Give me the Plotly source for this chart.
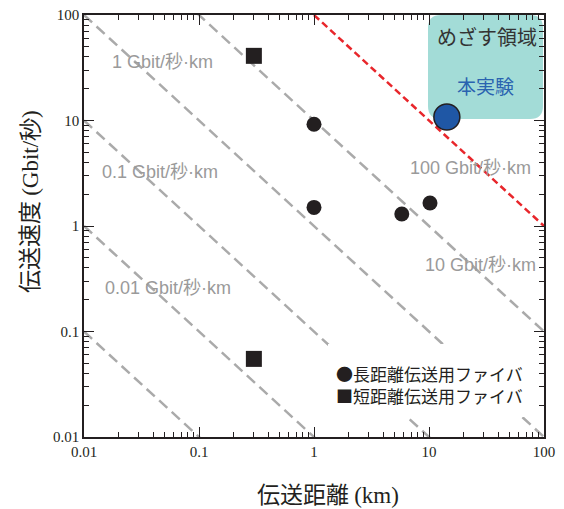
import plotly.graph_objects as go

# ---- data ----
tick_vals = [0.01, 0.1, 1, 10, 100]
tick_text = ["0.01", "0.1", "1", "10", "100"]

long_dist_x = [1.0, 1.0, 5.8, 10.2]      # 長距離伝送用ファイバ (km)
long_dist_y = [9.2, 1.5, 1.3, 1.65]      # Gbit/秒
short_dist_x = [0.3, 0.3]                # 短距離伝送用ファイバ
short_dist_y = [41, 0.055]
this_exp_x = [14.3]                      # 本実験
this_exp_y = [10.8]

iso_products = [0.001, 0.01, 0.1, 1, 10]  # Gbit/秒·km (gray guide lines)
target_product = 100                      # red line
line_x = [0.01, 100]
target_x = [1, 100]

iso_label_text = ["1 Gbit/秒·km", "0.1 Gbit/秒·km", "0.01 Gbit/秒·km",
                  "100 Gbit/秒·km", "10 Gbit/秒·km"]

legend_text = ["●長距離伝送用ファイバ", "■短距離伝送用ファイバ"]

# ---- figure ----
OFF = 8                      # browser body margin
PL, PR, PT, PB = 84, 544, 15, 437   # plot area in window pixels
W, H = 564 - OFF, 509 - OFF
L, T = PL - OFF, PT - OFF
R = W + OFF - PR
B = H + OFF - PB
PW, PH = PR - PL, PB - PT

def px2paper(px, py):
    return (px - PL) / PW, (PB - py) / PH

fig = go.Figure()

for k in iso_products:
    fig.add_trace(go.Scatter(
        x=line_x, y=[k / v for v in line_x], mode="lines",
        line=dict(color="#aaaaaa", width=2.5, dash="11px,6px"),
        hoverinfo="skip", showlegend=False))

fig.add_trace(go.Scatter(
    x=target_x, y=[target_product / v for v in target_x], mode="lines",
    line=dict(color="#e8262b", width=2.5, dash="7px,4px"),
    hoverinfo="skip", showlegend=False))

fig.add_trace(go.Scatter(
    x=long_dist_x, y=long_dist_y, mode="markers", name="長距離伝送用ファイバ",
    marker=dict(symbol="circle", size=15, color="#231f20"), showlegend=False))
fig.add_trace(go.Scatter(
    x=short_dist_x, y=short_dist_y, mode="markers", name="短距離伝送用ファイバ",
    marker=dict(symbol="square", size=16, color="#231f20"), showlegend=False))

# teal target region (rounded rectangle)
x0, y0 = px2paper(428, 119)
x1, y1 = px2paper(543, 15)
rx, ry = 13 / PW, 13 / PH
path = (f"M {x0+rx},{y0} L {x1-rx},{y0} Q {x1},{y0} {x1},{y0+ry} "
        f"L {x1},{y1-ry} Q {x1},{y1} {x1-rx},{y1} L {x0+rx},{y1} "
        f"Q {x0},{y1} {x0},{y1-ry} L {x0},{y0+ry} Q {x0},{y0} {x0+rx},{y0} Z")
fig.add_shape(type="path", path=path, xref="paper", yref="paper",
              fillcolor="#a3dcd7", line=dict(width=0), layer="below")

fig.add_trace(go.Scatter(
    x=this_exp_x, y=this_exp_y, mode="markers", name="本実験",
    marker=dict(symbol="circle", size=26, color="#1f57a5",
                line=dict(color="#231f20", width=1.5)), showlegend=False))

# white legend box
lx0, ly0 = px2paper(328, 417)
lx1, ly1 = px2paper(533, 344)
fig.add_shape(type="rect", xref="paper", yref="paper", x0=lx0, y0=ly0, x1=lx1, y1=ly1,
              fillcolor="white", line=dict(width=0), layer="above")

sans = "Liberation Sans, Noto Sans CJK JP"
cjk = "Noto Sans CJK JP"
serif = "Liberation Serif"

ann = []
label_pos = [(110, 62, "left"), (100, 172, "left"), (103, 288, "left"),
             (533, 168, "right"), (538, 265, "right")]
for txt, (px, py, anc) in zip(iso_label_text, label_pos):
    ax, ay = px2paper(px, py)
    ann.append(dict(text=txt, x=ax, y=ay, xref="paper", yref="paper",
                    xanchor=anc, yanchor="middle", showarrow=False,
                    font=dict(family=sans, size=18, color="#9a9a9a")))

ax, ay = px2paper(334, 384)
ann.append(dict(text="<br>".join(legend_text), x=ax, y=ay, xref="paper", yref="paper",
                xanchor="left", yanchor="middle", align="left", showarrow=False,
                font=dict(family=cjk, size=17, color="#231f20")))

ax, ay = px2paper(487, 37)
ann.append(dict(text="めざす領域", x=ax, y=ay, xref="paper", yref="paper",
                xanchor="center", yanchor="middle", showarrow=False,
                font=dict(family=cjk, size=20, color="#333333")))
ax, ay = px2paper(485, 85)
ann.append(dict(text="本実験", x=ax, y=ay, xref="paper", yref="paper",
                xanchor="center", yanchor="middle", showarrow=False,
                font=dict(family=cjk, size=19, color="#2a63b0")))

# axis titles
ax, ay = px2paper(328, 493)
ann.append(dict(text=f"伝送距離 <span style='font-family:{serif}'>(km)</span>",
                x=ax, y=ay, xref="paper", yref="paper", xanchor="center", yanchor="middle",
                showarrow=False, font=dict(family=cjk, size=23, color="#231f20")))
ax, ay = px2paper(28, 202)
ann.append(dict(text=f"伝送速度 <span style='font-family:{serif}'>(Gbit/秒)</span>",
                x=ax, y=ay, xref="paper", yref="paper", xanchor="center", yanchor="middle",
                textangle=-90, showarrow=False,
                font=dict(family=cjk, size=23, color="#231f20")))

axis_common = dict(
    type="log", showgrid=False, zeroline=False,
    showline=True, linecolor="#231f20", linewidth=1.5, mirror="allticks",
    ticks="inside", ticklen=10, tickwidth=1.2, tickcolor="#231f20",
    minor=dict(ticks="inside", ticklen=5, tickwidth=1.2, tickcolor="#231f20", dtick="D1"),
    tickvals=tick_vals, ticktext=tick_text, ticklabeloverflow="allow",
    tickfont=dict(family=serif, size=15, color="#231f20"),
)

fig.update_layout(
    width=W, height=H,
    margin=dict(l=L, r=R, t=T, b=B, autoexpand=False),
    paper_bgcolor="white", plot_bgcolor="white",
    xaxis=dict(range=[-2, 2], **axis_common),
    yaxis=dict(range=[-2, 2], **axis_common),
    annotations=ann,
    showlegend=False,
)

fig.write_html("out.html")
